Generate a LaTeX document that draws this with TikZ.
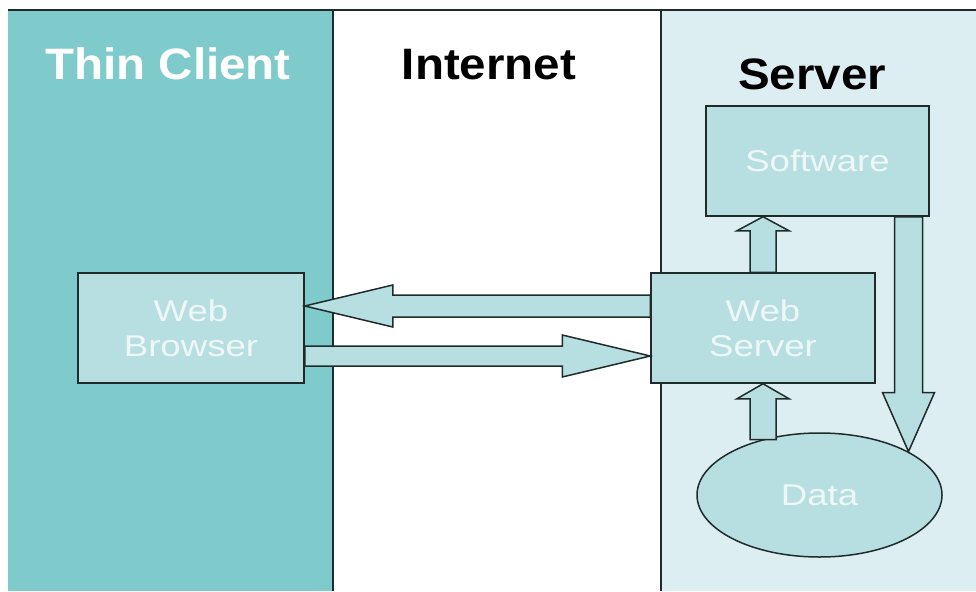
\documentclass[tikz,border=0pt]{standalone}
\usepackage{fontspec}
\setmainfont{Liberation Sans}
\newfontfamily\headfont[FakeStretch=1.08]{Liberation Sans}
\newfontfamily\boxfont[FakeStretch=1.22]{Liberation Sans}
\usetikzlibrary{shapes.geometric, positioning, calc}

\definecolor{clientteal}{HTML}{7FCACB}
\definecolor{serverbg}{HTML}{DCEEF1}
\definecolor{boxfill}{HTML}{B7DFE1}
\definecolor{boxtext}{HTML}{EEF7F7}
\definecolor{edge}{HTML}{1F2B2B}

\begin{document}
\begin{tikzpicture}[
      x=1pt, y=-1pt,
      heading/.style={
          anchor=base,
          font=\headfont\bfseries\fontsize{44}{48}\selectfont
        },
      box/.style={
          rectangle,
          draw=edge,
          line width=1.5pt,
          fill=boxfill,
          text=boxtext,
          align=center,
          inner sep=0pt,
          font=\boxfont\fontsize{30}{35}\selectfont
        },
      blob/.style={
          box,
          ellipse
        },
      sepline/.style={
          draw=edge,
          line width=1.8pt
        },
      blockarrow/.style={
          draw=edge,
          line width=1.5pt,
          fill=boxfill,
          line join=miter
        }
    ]
    \useasboundingbox (0,0) rectangle (976,591);

    % Columns
    \fill[clientteal] (8,10) rectangle (333,591);
    \fill[serverbg] (661,10) rectangle (976,591);
    \draw[sepline] (8,10) -- (976,10);
    \draw[sepline] (333,10) -- (333,591);
    \draw[sepline] (661,10) -- (661,591);

    % Headings
    \node[heading, text=white] (client) at (168,80) {Thin Client};
    \node[heading] (internet) at (489,80) {Internet};
    \node[heading] (server) at (812,90) {Server};

    % Nodes
    \node[box, minimum width=226pt, minimum height=110pt] (browser) at (191,328) {Web\\Browser};
    \node[box, minimum width=224pt, minimum height=110pt] (webserver) at (763,328) {Web\\Server};
    \node[box, minimum width=223pt, minimum height=110pt] (software) at (817.5,161) {Software};
    \node[blob, minimum width=245pt, minimum height=124pt] (data) at (819.5,495) {Data};

    % Arrows
    \coordinate (tipL) at ($(browser.east)+(0,-22)$);
    \draw[blockarrow] (tipL) -- ++(88,-21) -- ++(0,10) -- ($(webserver.west |- tipL)+(0,-11)$)
      -- ++(0,22) -- ($(tipL)+(88,11)$) -- ++(0,10) -- cycle;

    \coordinate (tipR) at ($(webserver.west)+(0,28)$);
    \draw[blockarrow] (tipR) -- ++(-88,-21) -- ++(0,11) -- ($(browser.east |- tipR)+(0,-10)$)
      -- ++(0,20) -- ($(tipR)+(-88,10)$) -- ++(0,11) -- cycle;

    \coordinate (tipS) at (webserver.north |- software.south);
    \draw[blockarrow] (tipS) -- ++(26,14) -- ++(-13,0) -- ($(webserver.north)+(13,0)$)
      -- ++(-26,0) -- ($(tipS)+(-13,14)$) -- ++(-13,0) -- cycle;

    \coordinate (baseD) at (webserver.south |- data.136);
    \draw[blockarrow] (webserver.south) -- ++(26,15) -- ++(-13,0) -- ($(baseD)+(13,0)$)
      -- ++(-26,0) -- ($(webserver.south)+(-13,15)$) -- ++(-13,0) -- cycle;

    \coordinate (tipD) at (data.26);
    \draw[blockarrow] (tipD) -- ++(26,-59) -- ++(-12,0) -- ($(tipD |- software.south)+(14,0)$)
      -- ++(-28,0) -- ($(tipD)+(-14,-59)$) -- ++(-12,0) -- cycle;
  \end{tikzpicture}
\end{document}
